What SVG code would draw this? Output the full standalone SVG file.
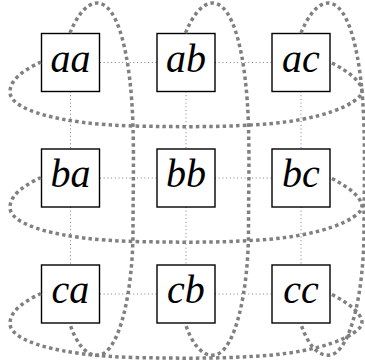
<svg xmlns="http://www.w3.org/2000/svg" width="365" height="364" viewBox="0 0 365 364">
  <style>
    .box { fill: #ffffff; stroke: #000000; stroke-width: 1.4; }
    .lbl { font-family: "Liberation Serif", "DejaVu Serif", serif; font-style: italic; font-size: 40px; fill: #000000; text-anchor: middle; }
    .thin { stroke: #808080; stroke-width: 1; stroke-dasharray: 1 2.7; fill: none; }
    .loop { stroke: #808080; stroke-width: 3.5; stroke-dasharray: 3.5 3.2; fill: none; }
  </style>
  <defs>
    <path id="rowcurve" d="M41,62 C28,68 10,78 10,92 C10,110 60,124 133,126 C180,127 220,127 250,125 C300,123 345,112 360,96 C368,86 350,72 330,62"/>
    <path id="colcurve" d="M70,33 C76,18 86,3 97,3 C118,3 131,55 133,127 C134,160 133,200 133,230 C133,290 120,352 99,355 C85,357 75,340 70,324"/>
  </defs>
  <g id="connectors">
    <g class="thin">
      <line x1="100" y1="62.5" x2="157" y2="62.5"/>
      <line x1="215" y1="62.5" x2="272" y2="62.5"/>
      <line x1="100" y1="178" x2="157" y2="178"/>
      <line x1="215" y1="178" x2="272" y2="178"/>
      <line x1="100" y1="294" x2="157" y2="294"/>
      <line x1="215" y1="294" x2="272" y2="294"/>
      <line x1="70.5" y1="91.5" x2="70.5" y2="149"/>
      <line x1="70.5" y1="207" x2="70.5" y2="265"/>
      <line x1="186" y1="91.5" x2="186" y2="149"/>
      <line x1="186" y1="207" x2="186" y2="265"/>
      <line x1="301" y1="91.5" x2="301" y2="149"/>
      <line x1="301" y1="207" x2="301" y2="265"/>
    </g>
  </g>
  <g id="aa"><rect class="box" x="41.5" y="33.5" width="58" height="58"/><text class="lbl" x="70.5" y="71.5">aa</text></g>
  <g id="ab"><rect class="box" x="157" y="33.5" width="58" height="58"/><text class="lbl" x="186" y="71.5">ab</text></g>
  <g id="ac"><rect class="box" x="272" y="33.5" width="58" height="58"/><text class="lbl" x="301" y="71.5">ac</text></g>
  <g id="ba"><rect class="box" x="41.5" y="149" width="58" height="58"/><text class="lbl" x="70.5" y="187">ba</text></g>
  <g id="bb"><rect class="box" x="157" y="149" width="58" height="58"/><text class="lbl" x="186" y="187">bb</text></g>
  <g id="bc"><rect class="box" x="272" y="149" width="58" height="58"/><text class="lbl" x="301" y="187">bc</text></g>
  <g id="ca"><rect class="box" x="41.5" y="265" width="58" height="58"/><text class="lbl" x="70.5" y="303">ca</text></g>
  <g id="cb"><rect class="box" x="157" y="265" width="58" height="58"/><text class="lbl" x="186" y="303">cb</text></g>
  <g id="cc"><rect class="box" x="272" y="265" width="58" height="58"/><text class="lbl" x="301" y="303">cc</text></g>
  <g id="groups" class="loop">
    <use href="#rowcurve"/>
    <use href="#rowcurve" transform="translate(0,115.5)"/>
    <use href="#rowcurve" transform="translate(0,231.5)"/>
    <use href="#colcurve"/>
    <use href="#colcurve" transform="translate(115.5,0)"/>
    <use href="#colcurve" transform="translate(231,0)"/>
  </g>
</svg>
